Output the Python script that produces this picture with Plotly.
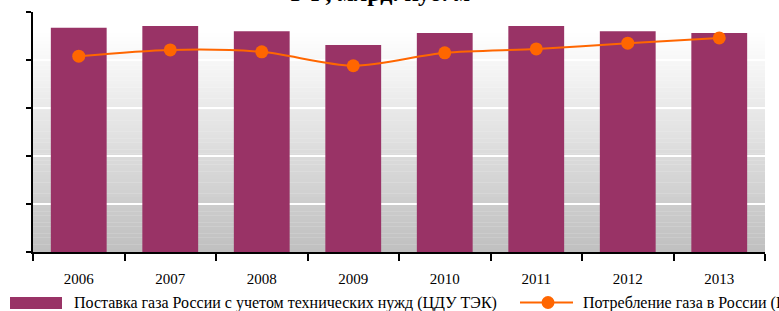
import plotly.graph_objects as go

years = ["2006", "2007", "2008", "2009", "2010", "2011", "2012", "2013"]
supply = [467, 471, 460, 431, 456, 471, 460, 456]
consumption = [408, 421, 417, 388, 415, 423, 435, 446]
supply_name = "Поставка газа России с учетом технических нужд (ЦДУ ТЭК)"
cons_name = "Потребление газа в России (BP)"
title_text = "Поставка и потребление газа в<br>РФ, млрд. куб. м"

W, H = 779, 311
ML, MR, MT, MB = 33, 14, 12, 59
PW = W - ML - MR
PH = H - MT - MB

BAR = "#993366"
LINE = "#FF6600"
FONT = "Liberation Serif"

fig = go.Figure()
fig.add_trace(go.Bar(x=years, y=supply, name=supply_name, marker_color=BAR,
                     marker_line_width=0, showlegend=False))
fig.add_trace(go.Scatter(x=years, y=consumption, name=cons_name, mode="lines+markers",
                         line=dict(color=LINE, width=2, shape="spline", smoothing=0.8),
                         marker=dict(color=LINE, size=13), showlegend=False))

shapes = []
# gradient plot background
top_frac = (PH - 21) / PH
n = 60
for i in range(n):
    y0 = top_frac * i / n
    y1 = top_frac * (i + 1) / n
    t = (i + 0.5) / n  # 0 bottom, 1 top
    v = int(round(0xbf + (0xff - 0xbf) * t))
    shapes.append(dict(type="rect", xref="paper", yref="paper", x0=0, x1=1, y0=y0, y1=y1 + 0.001,
                       fillcolor=f"rgb({v},{v},{v})", line_width=0, layer="below"))

def px_x(p):
    return (p - ML) / PW

def px_y(p):
    return (H - MB - p) / PH

# manual legend keys
shapes.append(dict(type="rect", xref="paper", yref="paper", x0=px_x(10), x1=px_x(62),
                   y0=px_y(309), y1=px_y(297), fillcolor=BAR, line_width=0))
shapes.append(dict(type="line", xref="paper", yref="paper", x0=px_x(520), x1=px_x(573),
                   y0=px_y(302.5), y1=px_y(302.5), line=dict(color=LINE, width=2)))
shapes.append(dict(type="circle", xref="paper", yref="paper", x0=px_x(541.5), x1=px_x(554.5),
                   y0=px_y(309), y1=px_y(296), fillcolor=LINE, line_width=0))

annotations = [
    dict(text=supply_name, xref="paper", yref="paper", x=px_x(72), y=px_y(303),
         xanchor="left", yanchor="middle", showarrow=False,
         font=dict(family=FONT, size=16, color="black")),
    dict(text=cons_name, xref="paper", yref="paper", x=px_x(581), y=px_y(303),
         xanchor="left", yanchor="middle", showarrow=False,
         font=dict(family=FONT, size=16, color="black")),
    dict(text="<b>" + title_text + "</b>", xref="paper", yref="paper", x=px_x(380), y=1.016,
         xanchor="center", yanchor="bottom", showarrow=False,
         font=dict(family=FONT, size=24, color="black")),
]

fig.update_layout(
    width=W, height=H,
    margin=dict(l=ML, r=MR, t=MT, b=MB, autoexpand=False),
    paper_bgcolor="white", plot_bgcolor="rgba(0,0,0,0)",
    bargap=0.39,
    shapes=shapes, annotations=annotations,
    showlegend=False,
    font=dict(family=FONT, color="black"),
)
fig.update_xaxes(type="category", showline=True, linecolor="black", linewidth=2,
                 ticks="outside", tickson="boundaries", ticklen=7, tickwidth=2, tickcolor="black",
                 showgrid=False, tickfont=dict(family=FONT, size=15, color="black"),
                 ticklabelstandoff=12, zeroline=False)
fig.update_yaxes(range=[0, 500], dtick=100, showline=True, linecolor="black", linewidth=2,
                 ticks="outside", ticklen=5, tickwidth=2, tickcolor="black",
                 showticklabels=False, showgrid=True, gridcolor="white", gridwidth=2,
                 zeroline=False)

fig.write_html("out.html", config={"displayModeBar": False},
               post_script="document.body.style.margin='0';document.body.style.overflow='hidden';")
